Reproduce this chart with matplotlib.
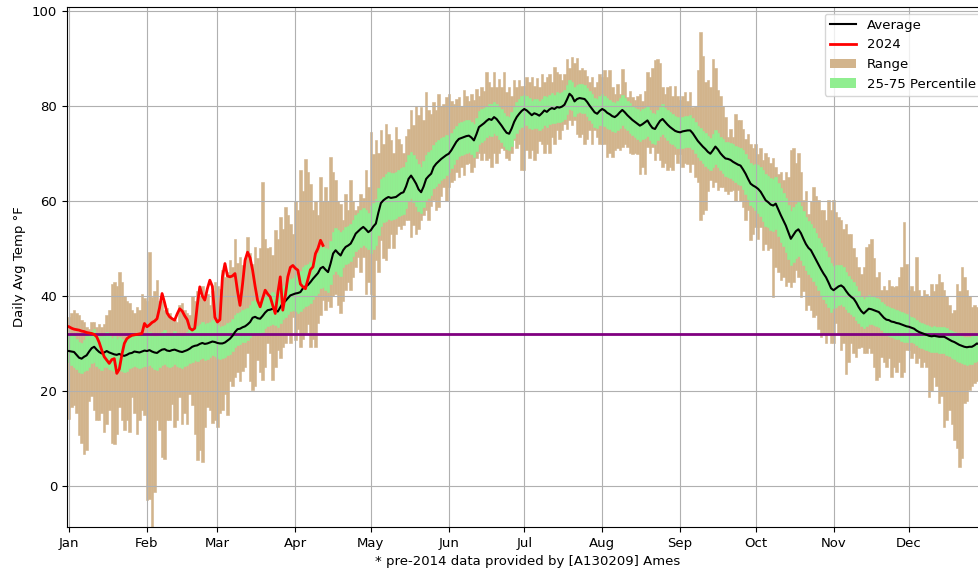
import matplotlib
matplotlib.use("Agg")
import matplotlib.pyplot as plt
from matplotlib.lines import Line2D
from matplotlib.patches import Patch
import numpy as np

plt.rcParams['font.size'] = 9.5

# ---------------------------------------------------------------
# Daily climatology of average temperature (deg F), day of year 1..365
# ---------------------------------------------------------------
max_jan = [35.6, 36.5, 37.0, 36.5, 36.0, 35.0, 34.5, 33.5, 33.0, 34.5, 34.5, 33.5, 34.0, 33.5, 34.0, 36.0,
           37.0, 42.6, 43.0, 42.0, 45.0, 43.0, 40.0, 39.0, 38.4, 37.0, 36.3, 37.6, 37.0, 40.5, 39.5]
max_feb = [39.0, 49.2, 39.8, 41.0, 43.3, 39.0, 39.0, 37.0, 37.5, 36.5, 34.9, 35.0, 34.5, 38.0, 38.5, 37.0,
           36.3, 36.0, 40.0, 39.0, 41.0, 40.0, 42.0, 39.0, 40.5, 38.0, 41.0, 43.0]
max_mar = [42.0, 41.5, 45.4, 44.0, 45.0, 47.5, 46.0, 52.0, 47.0, 48.2, 46.5, 48.0, 52.4, 49.0, 46.8, 50.3,
           48.0, 50.0, 64.0, 52.0, 50.0, 50.3, 48.5, 53.8, 52.0, 56.6, 54.0, 58.7, 57.0, 55.2, 53.0]
max_apr = [60.0, 58.0, 66.4, 62.0, 68.8, 66.0, 63.6, 58.0, 60.0, 57.0, 64.9, 60.0, 62.9, 60.0, 69.2, 66.0,
           64.3, 60.0, 59.4, 56.0, 61.5, 58.0, 64.3, 60.0, 58.0, 59.0, 61.5, 60.5, 66.4, 63.0]
max_may = [74.4, 69.9, 72.7, 70.0, 74.8, 72.0, 76.2, 74.0, 72.7, 70.0, 75.5, 73.0, 72.0, 70.0, 73.7, 75.0,
           79.0, 76.0, 80.0, 78.0, 79.7, 76.9, 82.8, 79.0, 78.3, 80.7, 79.0, 82.5, 80.0, 80.4, 81.8]
max_jun = [82.5, 81.0, 80.4, 81.5, 81.8, 80.0, 83.2, 82.0, 81.0, 82.5, 81.1, 83.5, 82.0, 84.0, 83.0, 87.0,
           85.0, 83.9, 87.0, 84.0, 85.6, 84.0, 87.0, 82.8, 84.0, 82.0, 85.3, 84.0, 85.3, 84.2]
max_jul = [84.2, 86.0, 85.0, 86.0, 84.2, 85.9, 84.0, 86.7, 85.0, 86.0, 86.7, 85.0, 88.1, 87.0, 86.7, 85.5,
           86.7, 89.8, 88.0, 90.2, 89.0, 90.0, 87.4, 88.0, 87.4, 86.3, 85.0, 86.0, 83.9, 85.0, 86.7]
max_aug = [86.0, 87.4, 86.0, 87.4, 84.0, 82.5, 84.6, 82.5, 87.7, 85.0, 81.8, 83.0, 81.8, 81.1, 82.0, 82.5,
           81.0, 83.0, 87.1, 86.0, 88.0, 89.5, 89.8, 89.0, 83.9, 82.5, 84.0, 84.2, 82.0, 84.2, 82.0]
max_sep = [81.1, 82.0, 82.8, 81.0, 82.8, 79.7, 80.0, 87.4, 95.4, 90.5, 85.0, 85.3, 84.0, 89.8, 88.0, 83.2,
           82.0, 80.0, 77.6, 73.4, 75.0, 73.4, 78.3, 77.0, 76.9, 75.0, 73.0, 74.0, 72.0, 71.0]
max_oct = [72.0, 69.9, 71.0, 68.5, 70.0, 69.2, 68.0, 69.0, 67.0, 65.7, 66.0, 64.3, 66.0, 65.0, 70.6, 71.0,
           68.0, 70.0, 66.0, 60.1, 62.0, 57.3, 60.0, 62.9, 61.0, 60.1, 58.0, 58.0, 56.0, 60.1, 58.0]
max_nov = [60.1, 57.6, 56.5, 55.9, 54.0, 55.2, 53.0, 53.1, 50.0, 48.2, 46.0, 44.7, 46.0, 50.3, 51.0, 52.0,
           48.0, 43.9, 45.0, 41.2, 42.0, 41.2, 43.3, 42.0, 41.9, 42.0, 44.0, 46.0, 55.5, 46.8]
max_dec = [41.2, 42.0, 41.0, 48.2, 41.2, 40.0, 41.2, 40.5, 40.0, 42.6, 41.0, 42.6, 44.7, 43.0, 41.2, 40.0,
           38.0, 36.3, 37.0, 42.6, 41.0, 46.1, 44.0, 41.2, 40.0, 37.7, 38.0, 37.7, 38.0, 36.0, 37.0]

min_jan = [14.2, 16.6, 17.0, 15.3, 10.8, 9.0, 6.8, 7.5, 18.0, 19.0, 16.0, 14.0, 13.9, 15.3, 11.4, 13.0,
           16.0, 9.0, 8.9, 11.0, 16.6, 14.0, 11.8, 13.9, 11.4, 18.8, 15.3, 10.9, 13.9, 16.0, 15.0]
min_feb = [-2.9, -2.7, -8.5, -1.3, 13.9, 11.8, 6.1, 5.8, 13.9, 14.0, 17.3, 12.5, 14.0, 18.8, 13.0, 15.3,
           13.0, 19.4, 17.0, 11.0, 5.4, 7.6, 5.1, 12.5, 16.6, 16.0, 13.2, 14.0]
min_mar = [12.5, 15.3, 16.0, 19.4, 15.0, 22.2, 21.0, 23.0, 24.0, 22.0, 24.3, 25.0, 27.9, 22.0, 20.2, 21.0,
           26.5, 24.0, 22.3, 25.0, 30.0, 28.0, 22.3, 25.0, 28.6, 27.0, 29.3, 30.0, 32.1, 30.0, 35.6]
min_apr = [30.7, 33.0, 29.3, 31.0, 32.1, 34.0, 29.3, 31.0, 29.3, 34.2, 36.0, 39.1, 37.0, 39.0, 37.7, 40.0,
           40.5, 38.0, 36.3, 39.0, 41.2, 43.0, 41.2, 44.0, 46.0, 48.2, 45.0, 48.2, 40.5, 43.0]
min_may = [40.5, 35.2, 47.5, 45.0, 51.7, 48.0, 47.5, 50.0, 53.1, 50.0, 53.0, 54.6, 54.0, 55.0, 56.0, 56.0,
           52.4, 55.0, 53.0, 54.0, 55.9, 57.0, 58.0, 56.0, 59.0, 60.1, 58.0, 58.7, 61.0, 62.9, 60.0]
min_jun = [62.9, 64.0, 64.3, 66.0, 65.0, 67.0, 65.5, 67.8, 68.0, 66.0, 67.1, 69.0, 70.0, 68.5, 70.0, 68.5,
           69.0, 67.1, 70.0, 68.0, 70.0, 71.0, 70.6, 69.0, 68.5, 70.0, 72.7, 71.0, 72.0, 66.4]
min_jul = [66.4, 70.6, 69.0, 70.6, 68.5, 70.0, 72.5, 72.0, 70.0, 72.0, 70.0, 73.4, 72.0, 74.8, 73.0, 74.8,
           76.2, 75.0, 76.9, 76.0, 76.9, 74.0, 73.4, 74.0, 72.0, 73.0, 74.8, 72.0, 74.8, 73.5, 72.0]
min_aug = [72.0, 72.0, 69.2, 70.0, 69.2, 70.6, 71.0, 70.6, 71.3, 72.0, 71.3, 70.0, 69.9, 70.0, 69.9, 65.7,
           67.0, 65.7, 71.3, 70.0, 71.3, 68.5, 70.0, 68.5, 67.1, 68.0, 66.4, 67.0, 66.4, 69.9, 68.0]
min_sep = [69.9, 67.1, 68.0, 67.8, 66.0, 67.8, 65.0, 64.0, 55.9, 57.3, 58.0, 62.0, 64.3, 63.0, 64.0, 62.2,
           63.0, 62.9, 62.0, 61.5, 62.0, 62.2, 60.0, 62.2, 60.0, 58.7, 56.0, 58.0, 51.7, 53.0]
min_oct = [54.5, 52.0, 54.5, 49.6, 51.0, 49.6, 50.0, 39.8, 46.1, 45.0, 43.3, 44.0, 42.0, 43.0, 41.9, 43.0,
           45.4, 44.0, 39.8, 41.0, 37.0, 38.0, 37.0, 35.6, 36.0, 33.0, 31.4, 32.0, 30.0, 32.0, 30.0]
min_nov = [30.0, 34.2, 32.0, 28.6, 30.0, 23.6, 26.0, 30.0, 28.0, 27.2, 29.0, 29.3, 28.0, 27.9, 29.0, 27.9,
           25.0, 22.3, 23.0, 27.2, 26.0, 25.1, 27.0, 23.0, 25.0, 24.0, 26.0, 23.0, 24.0, 28.6]
min_dec = [28.6, 27.0, 28.0, 25.8, 27.0, 25.1, 26.0, 25.0, 18.8, 20.0, 23.0, 21.0, 17.4, 19.0, 12.5, 14.0,
           16.0, 13.0, 9.7, 8.0, 4.1, 6.0, 17.4, 18.0, 20.2, 21.0, 21.6, 22.0, 21.6, 22.0, 24.0]

p75_jan = [31.8, 32.0, 31.5, 31.0, 30.2, 30.0, 30.8, 31.5, 32.0, 32.6, 33.0, 32.1, 31.5, 31.6, 32.0, 32.5,
           31.8, 31.2, 31.5, 31.0, 31.3, 31.0, 30.8, 31.3, 31.5, 31.6, 32.2, 31.8, 31.5, 32.0, 32.3]
p75_feb = [32.0, 32.4, 32.0, 31.5, 31.6, 32.2, 32.5, 32.8, 32.0, 31.8, 32.3, 32.6, 32.0, 31.8, 31.6, 32.0,
           32.5, 33.0, 33.5, 33.8, 33.6, 34.0, 34.5, 34.0, 34.2, 34.6, 35.0, 34.6]
p75_mar = [33.8, 33.4, 33.6, 33.9, 34.3, 34.6, 35.2, 36.0, 36.4, 36.6, 37.0, 37.2, 37.5, 38.0, 39.0, 39.2,
           38.7, 38.7, 39.4, 40.0, 40.6, 40.5, 40.8, 40.5, 40.2, 41.2, 42.0, 42.3, 43.0, 43.6, 43.8]
p75_apr = [44.4, 44.8, 45.2, 46.0, 46.5, 46.8, 47.2, 48.0, 48.6, 49.0, 50.3, 50.8, 50.0, 49.8, 51.5, 53.5,
           54.2, 53.8, 53.5, 53.8, 54.4, 54.8, 55.2, 56.0, 57.0, 57.5, 58.0, 58.4, 58.0, 57.5]
p75_may = [59.0, 59.6, 60.4, 62.6, 64.5, 65.0, 65.6, 66.0, 65.8, 65.8, 66.0, 66.4, 66.8, 67.0, 68.2, 69.6,
           70.2, 69.6, 68.8, 67.8, 67.2, 68.3, 69.6, 70.2, 70.6, 71.8, 72.4, 72.8, 73.2, 73.5, 73.8]
p75_jun = [73.6, 74.2, 75.0, 75.8, 76.4, 76.6, 76.8, 77.0, 77.0, 76.6, 76.2, 77.4, 78.8, 79.2, 79.6, 80.0,
           80.4, 80.3, 80.8, 80.4, 79.8, 79.2, 78.4, 77.8, 77.6, 78.6, 79.8, 80.8, 81.4, 82.0]
p75_jul = [82.3, 82.0, 81.6, 81.0, 81.4, 81.3, 81.0, 81.4, 82.0, 81.8, 82.2, 82.6, 82.3, 82.8, 82.6, 82.8,
           83.2, 84.3, 85.4, 85.0, 84.0, 84.4, 84.6, 84.5, 84.4, 83.8, 83.0, 82.4, 81.7, 81.4, 82.0]
p75_aug = [82.4, 82.0, 81.6, 81.2, 80.8, 80.6, 81.0, 81.6, 82.2, 81.6, 81.0, 80.6, 80.0, 79.6, 79.3, 78.8,
           79.2, 79.6, 80.0, 79.0, 78.4, 78.2, 79.0, 79.8, 80.3, 79.6, 79.0, 78.6, 78.2, 77.8, 77.6]
p75_sep = [77.4, 77.6, 77.8, 77.9, 78.0, 77.4, 76.6, 75.8, 75.2, 74.6, 74.2, 73.6, 73.2, 74.0, 74.8, 74.2,
           73.4, 72.9, 72.4, 72.4, 72.2, 71.9, 71.6, 71.4, 71.2, 70.6, 69.8, 68.8, 67.9, 67.6]
p75_oct = [67.8, 67.6, 67.2, 66.4, 65.6, 65.2, 64.8, 64.6, 65.0, 63.8, 62.6, 61.6, 60.6, 59.2, 57.8, 58.6,
           59.4, 59.8, 59.0, 57.8, 56.6, 55.8, 55.2, 54.2, 53.2, 52.2, 51.2, 50.2, 49.4, 48.2, 47.0]
p75_nov = [46.2, 46.4, 46.6, 46.6, 46.0, 45.0, 44.2, 43.6, 43.0, 42.0, 41.0, 40.0, 39.4, 39.8, 40.2, 40.0,
           39.8, 39.6, 39.4, 38.8, 38.2, 37.8, 37.6, 37.4, 37.2, 37.0, 36.9, 36.7, 36.4, 36.2]
p75_dec = [35.8, 35.6, 35.4, 35.0, 34.6, 34.4, 34.0, 33.8, 33.6, 33.5, 33.6, 33.5, 33.4, 33.5, 33.4, 33.2,
           32.9, 32.6, 32.4, 32.1, 31.8, 31.6, 31.4, 31.3, 31.4, 31.5, 31.8, 32.2, 32.0, 31.8, 32.0]

p25_jan = [26.0, 25.5, 25.0, 24.6, 24.0, 23.8, 24.2, 24.5, 25.0, 25.8, 26.0, 25.2, 24.8, 24.5, 25.0, 25.0,
           24.6, 24.5, 24.2, 24.0, 24.5, 24.2, 24.0, 24.3, 24.8, 25.0, 25.2, 25.0, 24.8, 25.0, 25.3]
p25_feb = [25.2, 25.5, 25.0, 24.6, 24.5, 25.0, 25.4, 25.6, 25.2, 25.0, 25.3, 25.6, 25.2, 25.0, 24.8, 25.2,
           25.5, 25.8, 26.2, 26.5, 26.4, 26.8, 27.0, 26.6, 26.8, 27.2, 27.5, 27.3]
p25_mar = [27.0, 26.8, 26.9, 27.1, 27.5, 27.8, 28.4, 29.2, 29.6, 29.9, 30.2, 30.3, 30.8, 31.3, 32.2, 32.3,
           32.0, 32.0, 32.5, 33.2, 33.6, 33.9, 34.0, 33.8, 33.5, 34.4, 35.2, 35.6, 36.2, 36.8, 37.0]
p25_apr = [36.8, 36.5, 36.8, 37.5, 37.8, 38.0, 38.6, 39.4, 40.0, 40.6, 41.6, 41.8, 41.2, 40.8, 42.5, 44.5,
           45.2, 44.6, 44.2, 46.0, 46.8, 47.0, 47.4, 48.4, 49.4, 49.8, 50.2, 50.6, 50.2, 49.8]
p25_may = [49.0, 49.8, 50.6, 52.8, 54.8, 55.5, 55.8, 56.2, 56.0, 56.2, 56.3, 56.8, 57.0, 57.2, 58.5, 60.0,
           60.6, 59.8, 59.0, 57.8, 57.4, 58.6, 60.2, 60.6, 61.2, 62.6, 63.2, 63.8, 64.4, 64.8, 65.4]
p25_jun = [66.0, 66.8, 67.8, 68.8, 69.4, 69.6, 69.8, 70.0, 70.2, 69.8, 69.2, 70.4, 72.0, 72.4, 72.8, 73.4,
           73.8, 73.6, 74.2, 73.8, 73.0, 72.3, 71.5, 70.8, 70.6, 71.6, 73.2, 74.2, 75.0, 75.6]
p25_jul = [76.2, 75.9, 75.4, 75.0, 75.3, 75.2, 74.8, 75.4, 76.0, 75.6, 76.2, 76.4, 76.3, 76.6, 76.6, 76.8,
           77.2, 78.2, 79.4, 79.0, 77.8, 78.4, 78.6, 78.5, 78.4, 77.8, 77.0, 76.3, 75.6, 75.3, 75.9]
p25_aug = [76.0, 75.8, 75.2, 75.0, 74.6, 74.4, 74.8, 75.4, 75.9, 75.4, 74.8, 74.2, 73.8, 73.4, 73.0, 72.6,
           72.9, 73.3, 73.7, 72.8, 72.1, 71.9, 72.8, 73.6, 74.0, 73.4, 72.8, 72.2, 71.9, 71.5, 71.2]
p25_sep = [71.0, 71.2, 71.4, 71.4, 71.4, 70.8, 70.0, 69.2, 68.6, 68.0, 67.4, 66.8, 66.4, 67.0, 67.8, 67.2,
           66.4, 65.8, 65.2, 65.0, 64.8, 64.4, 64.0, 63.6, 63.3, 62.4, 61.4, 60.3, 59.2, 58.6]
p25_oct = [58.0, 57.5, 56.8, 55.8, 54.8, 54.4, 53.8, 53.6, 54.0, 52.6, 51.4, 50.4, 49.2, 47.8, 46.4, 47.2,
           48.0, 48.4, 47.6, 46.4, 45.4, 44.6, 44.0, 43.2, 42.2, 41.2, 40.2, 39.4, 38.6, 37.6, 36.6]
p25_nov = [37.4, 37.6, 38.0, 38.2, 37.8, 37.2, 36.6, 36.2, 35.8, 35.0, 34.2, 33.6, 33.2, 33.6, 34.0, 34.0,
           33.8, 33.6, 33.4, 32.8, 32.2, 31.8, 31.6, 31.4, 31.2, 31.0, 30.9, 30.6, 30.4, 30.2]
p25_dec = [30.4, 30.2, 30.0, 29.6, 29.2, 29.0, 28.8, 28.6, 28.4, 28.2, 28.3, 28.2, 28.0, 28.0, 28.0, 27.6,
           27.3, 27.0, 26.8, 26.4, 26.0, 25.8, 25.6, 25.5, 25.6, 25.6, 26.0, 26.4, 26.2, 26.0, 26.2]

avg_jan = [28.4, 28.3, 28.2, 27.6, 27.0, 26.8, 27.2, 27.5, 28.3, 29.0, 29.3, 28.7, 28.2, 27.9, 28.1, 28.4,
           28.1, 27.9, 27.7, 27.6, 27.8, 27.5, 27.4, 27.6, 27.9, 28.0, 28.3, 28.2, 28.1, 28.3, 28.5]
avg_feb = [28.4, 28.6, 28.3, 28.1, 28.0, 28.4, 28.7, 28.8, 28.5, 28.4, 28.6, 28.7, 28.5, 28.3, 28.2, 28.4,
           28.6, 28.9, 29.3, 29.5, 29.6, 29.9, 30.1, 29.9, 30.0, 30.2, 30.4, 30.3]
avg_mar = [30.1, 30.0, 30.0, 30.2, 30.6, 31.0, 31.6, 32.4, 33.0, 33.1, 33.4, 33.6, 34.0, 34.5, 35.4, 35.6,
           35.3, 35.2, 35.8, 36.5, 37.0, 37.1, 37.3, 37.0, 36.7, 37.6, 38.5, 38.9, 39.5, 40.1, 40.3]
avg_apr = [40.5, 40.6, 40.8, 41.6, 42.0, 42.3, 42.9, 43.6, 44.2, 44.8, 45.8, 46.1, 45.5, 45.0, 46.8, 48.9,
           49.6, 49.0, 48.5, 49.6, 50.3, 50.6, 51.0, 52.0, 53.1, 53.6, 54.1, 54.5, 54.0, 53.4]
avg_may = [53.8, 54.6, 55.2, 57.5, 59.5, 60.1, 60.5, 60.8, 60.6, 60.7, 60.8, 61.2, 61.6, 61.8, 63.0, 64.6,
           65.3, 64.5, 63.6, 62.4, 61.8, 63.0, 64.6, 65.2, 65.7, 67.1, 67.8, 68.3, 68.8, 69.2, 69.6]
avg_jun = [69.9, 70.6, 71.5, 72.4, 73.0, 73.2, 73.4, 73.6, 73.7, 73.3, 72.7, 74.0, 75.5, 75.9, 76.3, 76.8,
           77.2, 77.0, 77.6, 77.2, 76.5, 75.8, 75.0, 74.3, 74.1, 75.2, 76.6, 77.6, 78.3, 78.9]
avg_jul = [79.3, 79.0, 78.5, 78.0, 78.4, 78.2, 77.9, 78.4, 79.0, 78.7, 79.2, 79.5, 79.3, 79.7, 79.6, 79.8,
           80.2, 81.3, 82.5, 82.0, 80.9, 81.4, 81.6, 81.5, 81.4, 80.8, 80.0, 79.3, 78.6, 78.3, 78.9]
avg_aug = [79.3, 79.0, 78.5, 78.2, 77.8, 77.6, 78.0, 78.6, 79.1, 78.6, 78.0, 77.5, 77.0, 76.6, 76.2, 75.8,
           76.1, 76.5, 76.9, 76.0, 75.3, 75.1, 76.0, 76.8, 77.2, 76.6, 76.0, 75.5, 75.1, 74.7, 74.5]
avg_sep = [74.4, 74.6, 74.7, 74.8, 74.8, 74.2, 73.4, 72.6, 72.0, 71.4, 70.9, 70.3, 69.9, 70.6, 71.4, 70.8,
           70.0, 69.4, 68.9, 68.8, 68.6, 68.2, 67.9, 67.6, 67.4, 66.6, 65.7, 64.6, 63.6, 63.2]
avg_oct = [62.9, 62.5, 61.9, 61.0, 60.1, 59.7, 59.2, 59.0, 59.4, 58.2, 57.0, 55.9, 54.8, 53.4, 52.0, 52.8,
           53.6, 54.0, 53.2, 52.0, 50.9, 50.1, 49.6, 48.6, 47.6, 46.6, 45.6, 44.7, 43.9, 42.8, 41.6]
avg_nov = [41.2, 41.6, 42.0, 42.2, 41.8, 41.0, 40.3, 39.8, 39.4, 38.6, 37.6, 36.8, 36.3, 36.8, 37.3, 37.2,
           37.0, 36.8, 36.6, 36.0, 35.4, 35.0, 34.9, 34.6, 34.5, 34.3, 34.2, 34.0, 33.8, 33.6]
avg_dec = [33.5, 33.3, 33.1, 32.7, 32.4, 32.2, 32.0, 31.8, 31.6, 31.5, 31.6, 31.5, 31.4, 31.4, 31.4, 31.1,
           30.8, 30.5, 30.3, 30.0, 29.7, 29.5, 29.3, 29.2, 29.3, 29.3, 29.6, 30.0, 29.8, 29.6, 29.8]

# 2024 daily average temperature so far (Jan 1 .. Apr 11)
temps_2024 = [33.5, 33.2, 33.0, 32.9, 32.8, 32.6, 32.5, 32.3, 32.2, 32.1, 31.9, 31.4, 30.2, 28.6, 27.2, 26.5,
              25.8, 26.6, 26.8, 23.7, 24.6, 27.6, 30.0, 31.0, 31.4, 31.7, 31.8, 31.9, 32.0, 32.1, 34.2,
              33.5, 33.9, 34.4, 34.7, 35.2, 37.5, 40.5, 38.6, 36.4, 35.6, 35.2, 34.9, 36.2, 37.3, 36.8,
              35.8, 35.0, 33.2, 32.8, 33.2, 38.0, 41.9, 40.0, 39.1, 41.5, 43.3, 42.0, 35.5,
              34.5, 35.0, 44.0, 46.8, 44.2, 44.0, 44.2, 44.7, 41.0, 38.0, 42.5, 47.5, 49.2, 48.0, 45.4,
              42.0, 39.0, 37.7, 39.5, 41.2, 40.4, 39.8, 38.0, 36.3, 40.5, 44.0, 37.0, 40.0, 44.0, 46.0,
              46.4, 45.8, 45.4, 42.5, 41.9, 41.5, 43.5, 45.5, 46.1, 48.9, 50.0, 51.7, 50.6]

month_starts = [1, 32, 60, 91, 121, 152, 182, 213, 244, 274, 305, 335]
month_labels = ['Jan', 'Feb', 'Mar', 'Apr', 'May', 'Jun', 'Jul', 'Aug', 'Sep', 'Oct', 'Nov', 'Dec']
freezing_line = 32

range_max = np.array(max_jan + max_feb + max_mar + max_apr + max_may + max_jun +
                     max_jul + max_aug + max_sep + max_oct + max_nov + max_dec)
range_min = np.array(min_jan + min_feb + min_mar + min_apr + min_may + min_jun +
                     min_jul + min_aug + min_sep + min_oct + min_nov + min_dec)
pct75 = np.array(p75_jan + p75_feb + p75_mar + p75_apr + p75_may + p75_jun +
                 p75_jul + p75_aug + p75_sep + p75_oct + p75_nov + p75_dec)
pct25 = np.array(p25_jan + p25_feb + p25_mar + p25_apr + p25_may + p25_jun +
                 p25_jul + p25_aug + p25_sep + p25_oct + p25_nov + p25_dec)
average = np.array(avg_jan + avg_feb + avg_mar + avg_apr + avg_may + avg_jun +
                   avg_jul + avg_aug + avg_sep + avg_oct + avg_nov + avg_dec)

days = np.arange(1, len(average) + 1)
days_2024 = np.arange(1, len(temps_2024) + 1)

fig = plt.figure(figsize=(9.79, 5.71), dpi=100)
ax = fig.add_axes([67 / 979, 44 / 571, 921 / 979, 520 / 571])

ax.bar(days, range_max - range_min, bottom=range_min, width=1.0,
       color='tan', edgecolor='tan', linewidth=0.4)
ax.bar(days, pct75 - pct25, bottom=pct25, width=1.0,
       color='lightgreen', edgecolor='lightgreen', linewidth=0.4)
ax.axhline(freezing_line, color='purple', linewidth=2)
ax.plot(days, average, color='black', linewidth=1.5)
ax.plot(days_2024, temps_2024, color='red', linewidth=2)

ax.set_xlim(0.2, 366.4)
ax.set_ylim(-8.6, 100.75)
ax.set_xticks(month_starts)
ax.set_xticklabels(month_labels)
ax.set_yticks([0, 20, 40, 60, 80, 100])
ax.grid(True)
ax.set_ylabel('Daily Avg Temp °F')
ax.set_xlabel('* pre-2014 data provided by [A130209] Ames')

handles = [Line2D([], [], color='black', linewidth=1.5),
           Line2D([], [], color='red', linewidth=2),
           Patch(facecolor='tan'),
           Patch(facecolor='lightgreen')]
ax.legend(handles, ['Average', '2024', 'Range', '25-75 Percentile'], loc='upper right')

fig.savefig('out.png', dpi=100)
